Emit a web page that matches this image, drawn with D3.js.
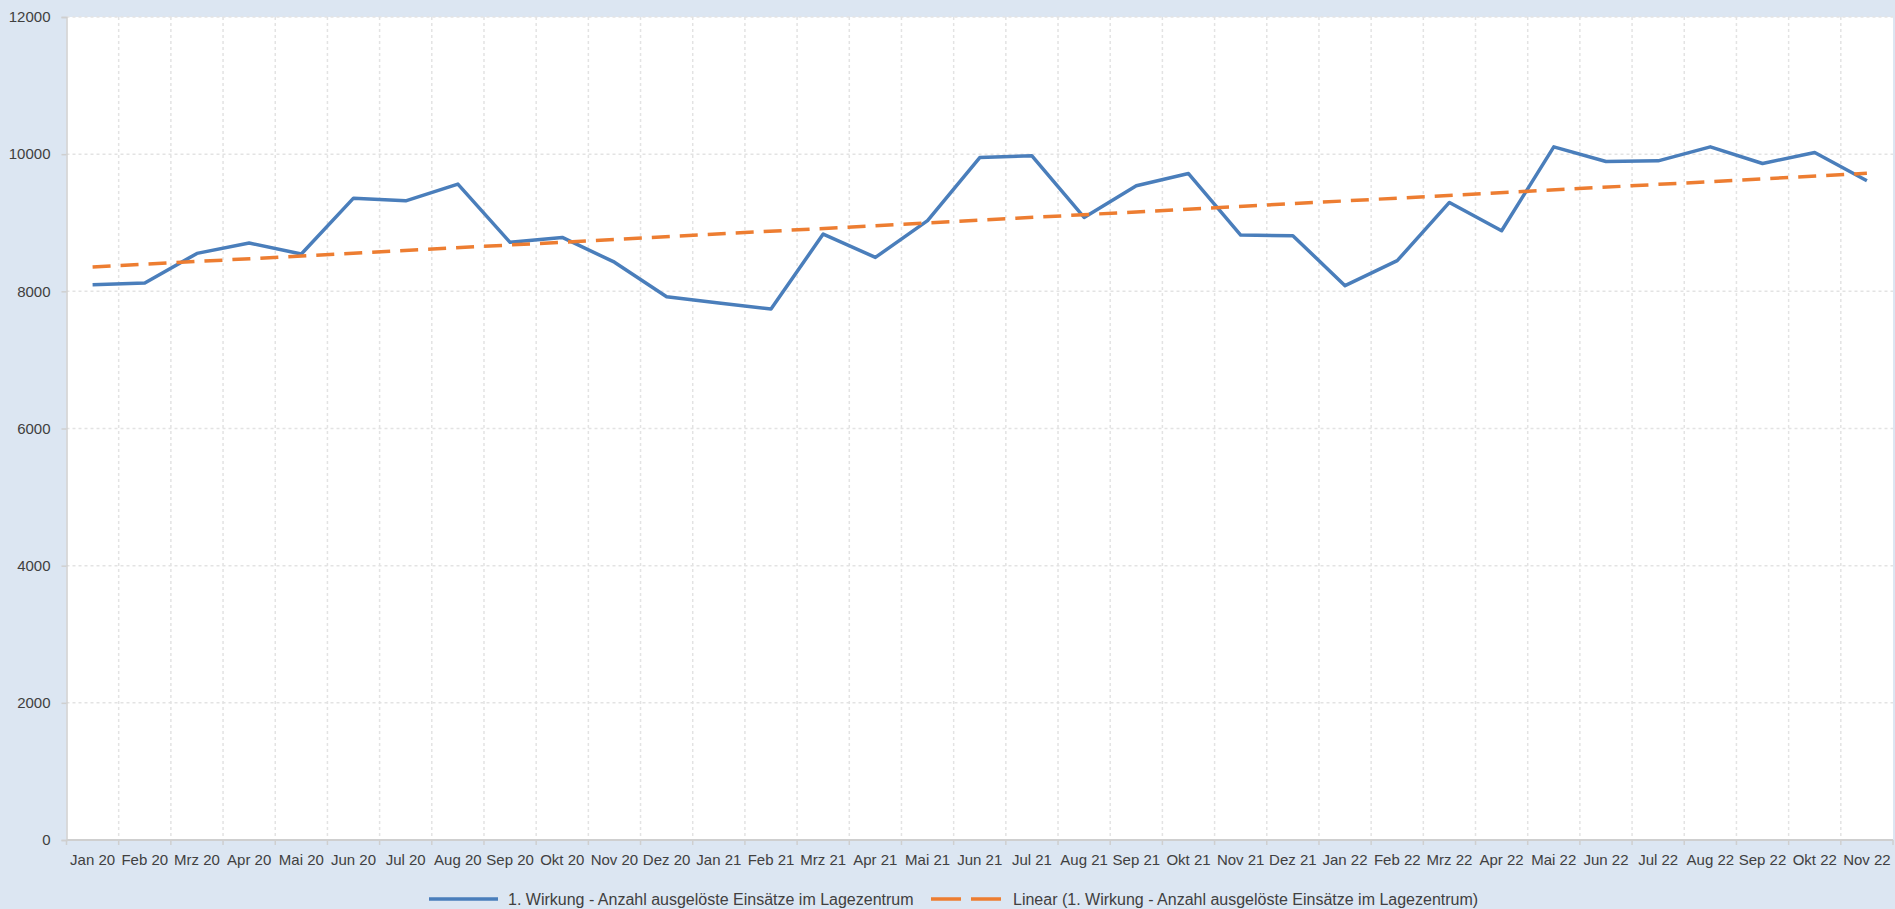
<!DOCTYPE html>
<html>
<head>
<meta charset="utf-8">
<script src="https://cdn.jsdelivr.net/npm/d3@7"></script>
<style>
  body { margin: 0; background: #dce6f2; }
  text { font-family: "Liberation Sans", Arial, sans-serif; fill: #404040; }
</style>
</head>
<body>
<div class="chart"></div>
<script>
const months = ["Jan 20", "Feb 20", "Mrz 20", "Apr 20", "Mai 20", "Jun 20", "Jul 20", "Aug 20", "Sep 20", "Okt 20", "Nov 20", "Dez 20",
                "Jan 21", "Feb 21", "Mrz 21", "Apr 21", "Mai 21", "Jun 21", "Jul 21", "Aug 21", "Sep 21", "Okt 21", "Nov 21", "Dez 21",
                "Jan 22", "Feb 22", "Mrz 22", "Apr 22", "Mai 22", "Jun 22", "Jul 22", "Aug 22", "Sep 22", "Okt 22", "Nov 22"];
const einsaetze = [8097, 8121, 8553, 8704, 8544, 9359, 9320, 9563, 8714, 8786, 8425, 7922,
                   7830, 7743, 8835, 8495, 9030, 9951, 9976, 9078, 9539, 9718, 8820, 8811,
                   8083, 8447, 9296, 8883, 10107, 9893, 9903, 10107, 9864, 10024, 9612];
// linear trend line, start and end
const trendMonths = ["Jan 20", "Nov 22"];
const trendValues = [8355, 9720];
const yTicks = [0, 2000, 4000, 6000, 8000, 10000, 12000];
const seriesName = "1. Wirkung - Anzahl ausgelöste Einsätze im Lagezentrum";
const trendName = "Linear (1. Wirkung - Anzahl ausgelöste Einsätze im Lagezentrum)";

let width = 1895, height = 909;
let plot = {left: 66.5, top: 17, right: 1893, bottom: 840};

let svg = d3.select(".chart")
            .append("svg")
            .attr("width", width)
            .attr("height", height);

svg.append("rect")
    .attr("x", plot.left).attr("y", plot.top)
    .attr("width", plot.right - plot.left)
    .attr("height", plot.bottom - plot.top)
    .attr("fill", "white");

let x = d3.scaleBand()
          .domain(months)
          .range([plot.left, plot.right])
          .padding(0);
let cx = m => x(m) + x.bandwidth() / 2;

let y = d3.scaleLinear()
          .domain([0, 12000])
          .range([plot.bottom, plot.top]);

// grid
let grid = svg.append("g")
    .attr("stroke", "#e3e3e3")
    .attr("stroke-width", 1.5)
    .attr("stroke-dasharray", "3,3");
grid.selectAll("line.h")
    .data(yTicks.filter(d => d > 0))
    .join("line")
    .attr("x1", plot.left).attr("x2", plot.right)
    .attr("y1", d => y(d)).attr("y2", d => y(d));
grid.selectAll("line.v")
    .data(months.slice(1))
    .join("line")
    .attr("x1", d => x(d)).attr("x2", d => x(d))
    .attr("y1", plot.top).attr("y2", plot.bottom);

// Y axis
let yAxis = svg.append("g")
    .attr("transform", "translate(" + plot.left + ",0)")
    .call(d3.axisLeft(y).tickValues(yTicks).tickSize(5).tickPadding(11).tickFormat(d3.format("d")));
yAxis.selectAll("text").style("font-size", "15px").attr("fill", "#404040");
yAxis.selectAll("line, path").attr("stroke", "#cfcfcf").attr("stroke-width", 1.5);

// X axis, ticks between categories
let xAxis = svg.append("g")
    .attr("transform", "translate(0," + plot.bottom + ")");
xAxis.append("line")
    .attr("x1", plot.left).attr("x2", plot.right)
    .attr("stroke", "#cfcfcf").attr("stroke-width", 2);
xAxis.selectAll("line.tick")
    .data(months.concat(["end"]))
    .join("line")
    .attr("x1", (d, i) => plot.left + i * x.bandwidth())
    .attr("x2", (d, i) => plot.left + i * x.bandwidth())
    .attr("y1", 0).attr("y2", 5)
    .attr("stroke", "#cfcfcf").attr("stroke-width", 1.5);
xAxis.selectAll("text")
    .data(months)
    .join("text")
    .attr("x", d => cx(d))
    .attr("y", 25)
    .attr("text-anchor", "middle")
    .style("font-size", "15px")
    .text(d => d);

// data line
svg.append("path")
    .datum(einsaetze)
    .attr("fill", "none")
    .attr("stroke", "#4a7ebb")
    .attr("stroke-width", 3.5)
    .attr("stroke-linejoin", "round")
    .attr("d", d3.line()
        .x((d, i) => cx(months[i]))
        .y(d => y(d)));

// trend line
svg.append("path")
    .datum(trendValues)
    .attr("fill", "none")
    .attr("stroke", "#ed7d31")
    .attr("stroke-width", 3.5)
    .attr("stroke-dasharray", "18,10")
    .attr("d", d3.line()
        .x((d, i) => cx(trendMonths[i]))
        .y(d => y(d)));

// legend
let legend = svg.append("g").attr("transform", "translate(0,899)");
legend.append("line")
    .attr("x1", 429).attr("x2", 498)
    .attr("stroke", "#4a7ebb").attr("stroke-width", 3.5);
legend.append("text")
    .attr("x", 508).attr("y", 5.5)
    .style("font-size", "16px")
    .text(seriesName);
legend.append("line")
    .attr("x1", 931).attr("x2", 1001)
    .attr("stroke", "#ed7d31").attr("stroke-width", 3.5)
    .attr("stroke-dasharray", "30,10");
legend.append("text")
    .attr("x", 1013).attr("y", 5.5)
    .style("font-size", "16px")
    .text(trendName);
</script>
</body>
</html>
